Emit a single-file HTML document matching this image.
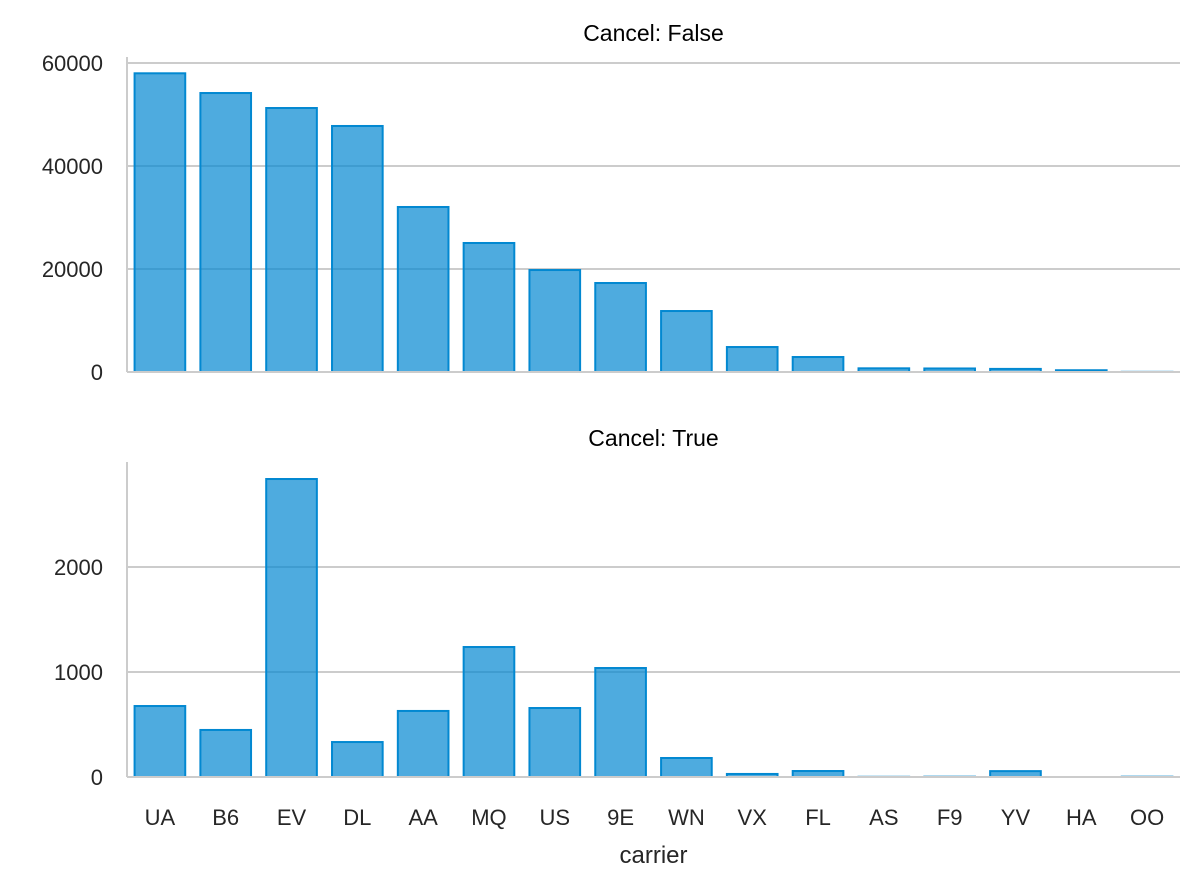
<!DOCTYPE html>
<html><head><meta charset="utf-8"><style>body{margin:0;background:#fff}svg text{font-family:"Liberation Sans",Arial,sans-serif}</style></head>
<body>
<svg id="c" width="1198" height="890" xmlns="http://www.w3.org/2000/svg"></svg>
<script>
const carriers=["UA","B6","EV","DL","AA","MQ","US","9E","WN","VX","FL","AS","F9","YV","HA","OO"];
const notCancelled=[58000,54170,51260,47770,32040,25050,19800,17280,11840,4850,2910,714,685,601,342,32];
const cancelled=[676,448,2838,333,629,1238,657,1038,181,29,57,2,3,56,0,3];
const topTicks=[0,20000,40000,60000];
const botTicks=[0,1000,2000];
const svg=document.getElementById('c');const NS='http://www.w3.org/2000/svg';
function el(t,a,p){const e=document.createElementNS(NS,t);for(const k in a)e.setAttribute(k,a[k]);(p||svg).appendChild(e);return e;}
const x0=127,x1=1180,band=(x1-x0)/carriers.length;
function xs(i){return x0+band*i;}
function panel(vals,ticks,y0,pxPer,top,title,name){
  const g=el('g',{});
  
  
  const ys=v=>y0-v*pxPer;
  ticks.forEach(t=>{
    const gl=el('line',{x1:x0,x2:x1,y1:ys(t),y2:ys(t),stroke:'#cccccc','stroke-width':2},g);
    
    
    const tx=el('text',{x:x0-24,y:ys(t)+8,'text-anchor':'end','font-size':22,fill:'#262626'},g);tx.textContent=t;
    
    
  });
  vals.forEach((v,i)=>{
    const h=v*pxPer;
    const r=el('rect',{x:xs(i)+band*0.1+1,y:y0-h,width:band*0.8-2,height:h,fill:'rgba(3,136,209,0.7)',stroke:'#0288d1','stroke-width':2},g);
    
    
  });
  el('line',{x1:x0,x2:x0,y1:top,y2:y0,stroke:'#cccccc','stroke-width':2},g);
  el('line',{x1:x0,x2:x1,y1:y0,y2:y0,stroke:'#cccccc','stroke-width':2},g);
  const tt=el('text',{x:(x0+x1)/2,y:top-16,'text-anchor':'middle','font-size':23,fill:'#000'},g);tt.textContent=title;
  
  
}
panel(notCancelled,topTicks,372,309/60000,57,'Cancel: False','panel-cancel-false');
panel(cancelled,botTicks,777,105/1000,462,'Cancel: True','panel-cancel-true');
carriers.forEach((c,i)=>{
  const t=el('text',{x:xs(i)+band/2,y:825,'text-anchor':'middle','font-size':22,fill:'#262626'});t.textContent=c;
  
  
});
const xt=el('text',{x:(x0+x1)/2,y:863,'text-anchor':'middle','font-size':24,fill:'#262626'});xt.textContent='carrier';


</script>
</body></html>
